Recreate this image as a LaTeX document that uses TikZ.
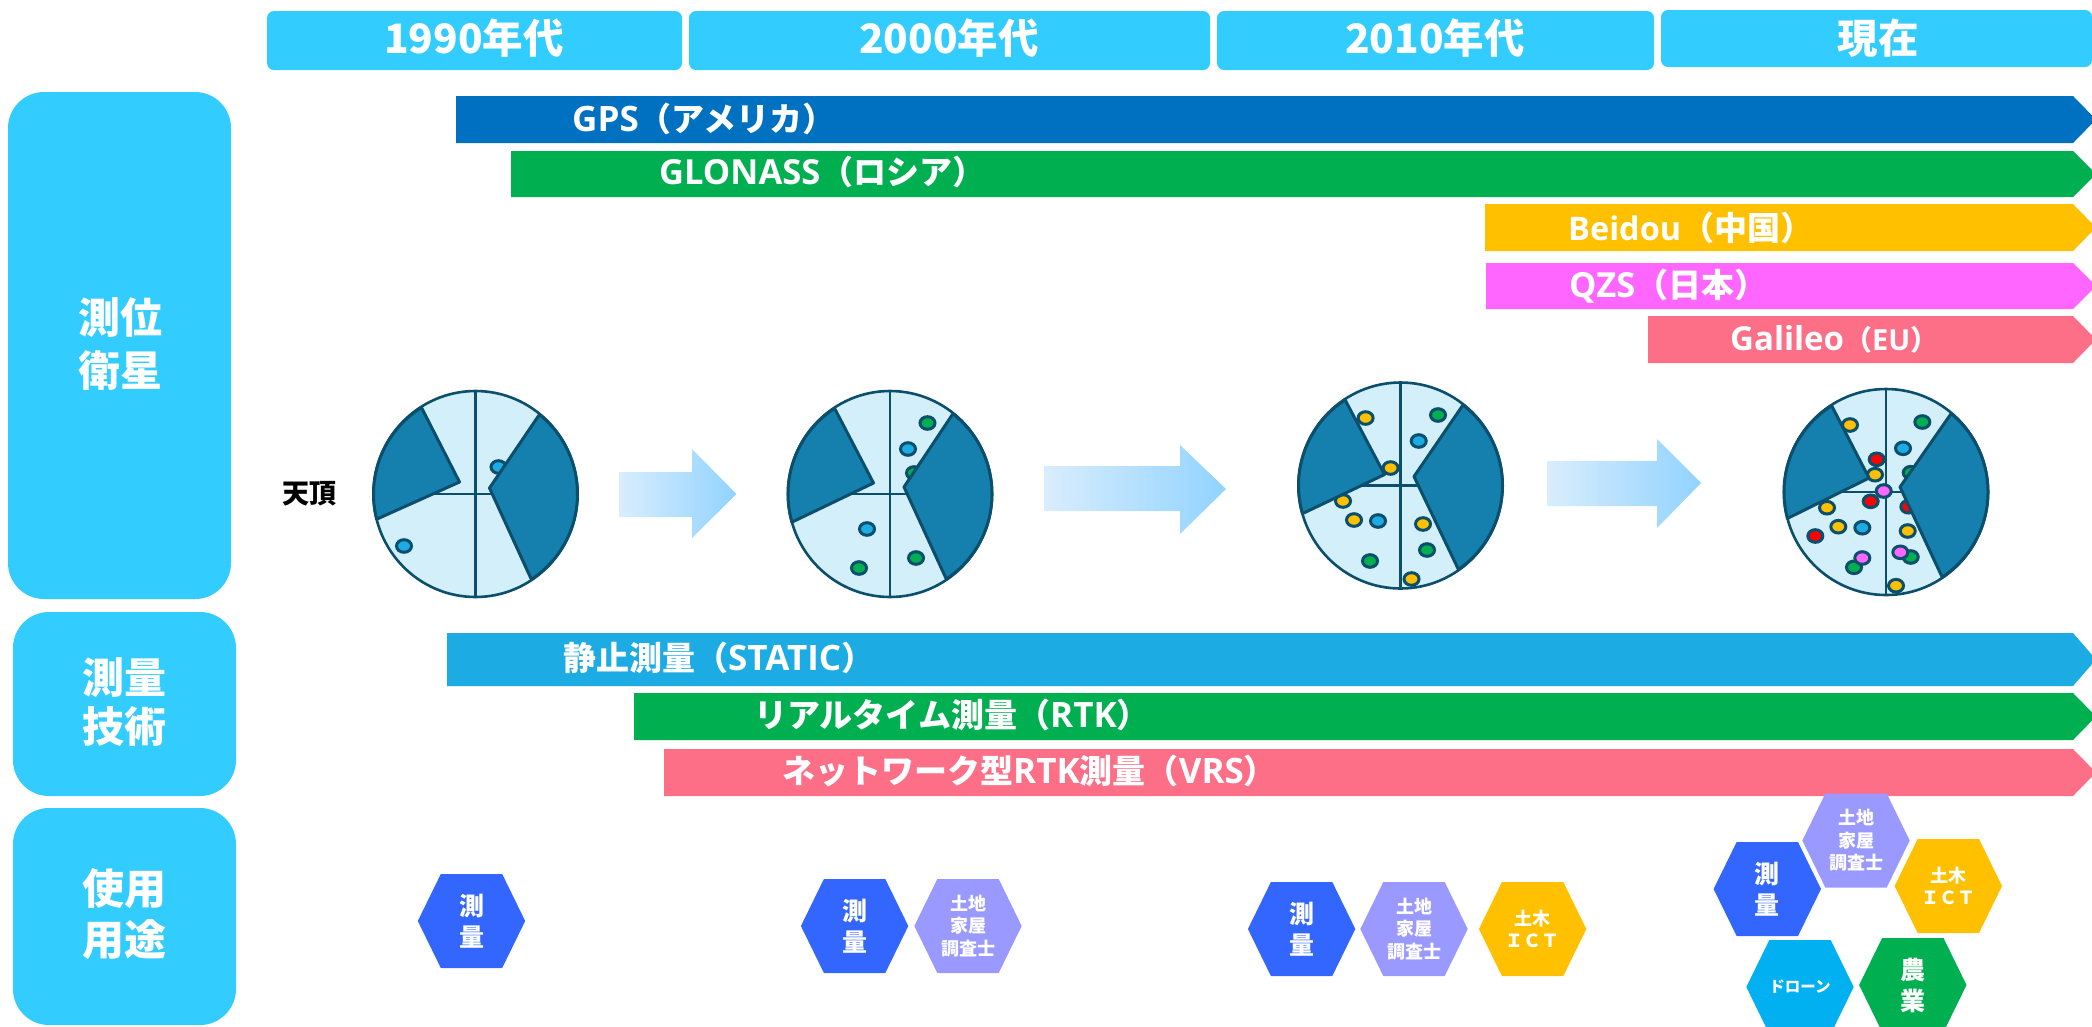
\documentclass[tikz,border=0pt]{standalone}
\usepackage{fontspec}
\newfontfamily\jp{Noto Sans CJK JP}
\newfontfamily\lat{Open Sans}
\newcommand\lt[2]{{\lat\bfseries\fontsize{#1}{#1}\selectfont #2}}
\definecolor{hdr}{HTML}{33CCFF}
\definecolor{cgps}{HTML}{0070C0}
\definecolor{cgreen}{HTML}{00B050}
\definecolor{cyel}{HTML}{FFC000}
\definecolor{cpink}{HTML}{FF66FF}
\definecolor{crose}{HTML}{FC6F87}
\definecolor{cstatic}{HTML}{1CABE2}
\definecolor{cred}{HTML}{FF0000}
\definecolor{skyline}{HTML}{0B4F6C}
\definecolor{skybg}{HTML}{D2EFFA}
\definecolor{skydark}{HTML}{1580AE}
\definecolor{hexblue}{HTML}{3366FF}
\definecolor{hexlav}{HTML}{9999FF}
\definecolor{hexsky}{HTML}{00B0F0}
\definecolor{arrl}{HTML}{D9EDFD}
\definecolor{arrr}{HTML}{91D3FF}
\tikzset{
  hdrbox/.style={fill=hdr,rounded corners=7pt},
  sidebox/.style={fill=hdr,rounded corners=36pt},
  hdrtext/.style={text=white,inner sep=0pt,font=\jp\bfseries\fontsize{40.5}{41}\selectfont},
  sidetext/.style={text=white,inner sep=0pt,align=center,font=\jp\bfseries\fontsize{42}{#1}\selectfont},
  bartext/.style={text=white,inner sep=0pt,anchor=west,font=\jp\bfseries\fontsize{33}{33}\selectfont},
  hextall/.style={text=white,inner sep=0pt,align=center,font=\jp\bfseries\fontsize{25}{31}\selectfont},
  hexsmall/.style={text=white,inner sep=0pt,align=center,font=\jp\bfseries\fontsize{18}{22.5}\selectfont},
  hextiny/.style={text=white,inner sep=0pt,align=center,font=\jp\bfseries\fontsize{15.5}{18}\selectfont},
  skyedge/.style={draw=skyline,line width=2.6pt},
  sector/.style={draw=skyline,line width=3pt,fill=skydark,line join=round},
  satdot/.style={draw=skyline,line width=3pt},
  flowarrow/.style={left color=arrl,right color=arrr}
}
\newcommand\tlbar[6]{% name, x, ytop, ybottom, colour, text start
  \fill[#5] (#2,#3) -- (2073,#3) -- (2096,{(#3+#4)/2}) -- (2073,#4) -- (#2,#4) -- cycle;
}
\newcommand\hexa[6]{% name, cx, cy, colour, style, text
  \fill[#4] ({#2-53.7},#3) -- ({#2-30.7},{#3-47}) -- ({#2+30.7},{#3-47}) -- ({#2+53.7},#3) -- ({#2+30.7},{#3+47}) -- ({#2-30.7},{#3+47}) -- cycle;
  \node[#5] (#1) at (#2,#3) {#6};
}
\newcommand\sat[3]{\draw[satdot,fill=#1] (#2,#3) ellipse[x radius=7.5,y radius=6.3];}
\newcommand\skybase[2]{%
  \draw[skyedge,fill=skybg] (#1,#2) ellipse[x radius=102,y radius=103];
  \draw[skyedge] (#1,{#2-103}) -- (#1,{#2+103});
  \draw[skyedge] ({#1-102},#2) -- ({#1+102},#2);
}
\begin{document}
\begin{tikzpicture}[x=1pt,y=-1pt]
\path[use as bounding box,clip] (0,0) rectangle (2092,1026);
% header
\fill[hdrbox] (267,11) rectangle (682,70);
\fill[hdrbox] (689,11) rectangle (1210,70);
\fill[hdrbox] (1217,11) rectangle (1654,70);
\fill[hdrbox] (1661,10) rectangle (2092,67);
\node[hdrtext] (h1) at (474,38) {1990年代};
\node[hdrtext] (h2) at (949,38) {2000年代};
\node[hdrtext] (h3) at (1435,38) {2010年代};
\node[hdrtext] (h4) at (1878,38) {現在};
% side
\fill[sidebox] (8,92) rectangle (231,599);
\fill[sidebox] (13,612) rectangle (236,796);
\fill[sidebox] (13,808) rectangle (236,1025);
\node[sidetext=53] (s1) at (120,344) {測位\\衛星};
\node[sidetext=49] (s2) at (124,702) {測量\\技術};
\node[sidetext=51] (s3) at (124,914) {使用\\用途};
% bars
\tlbar{b1}{456}{96}{143}{cgps}{}
\tlbar{b2}{511}{151}{197}{cgreen}{}
\tlbar{b3}{1485}{204}{251}{cyel}{}
\tlbar{b4}{1486}{263}{309}{cpink}{}
\tlbar{b5}{1648}{316}{363}{crose}{}
\tlbar{b6}{447}{633}{686}{cstatic}{}
\tlbar{b7}{634}{693}{740}{cgreen}{}
\tlbar{b8}{664}{749}{796}{crose}{}
\node[bartext] (t1) at (572,119) {\lt{35}{GPS}（アメリカ）};
\node[bartext] (t2) at (659,172) {\lt{34.5}{GLONASS}（ロシア）};
\node[bartext] (t3) at (1568,228) {\lt{32.5}{Beidou}（中国）};
\node[bartext] (t4) at (1569,286) {\lt{34.5}{QZS}（日本）};
\node[bartext,font=\jp\bfseries\fontsize{28}{28}\selectfont] (t5) at (1730,339) {\lt{33}{Galileo}（\lt{29}{EU}）};
\node[bartext] (t6) at (563,658) {静止測量（\lt{35}{STATIC}）};
\node[bartext] (t7) at (754,715) {リアルタイム測量（\lt{35}{RTK}）};
\node[bartext] (t8) at (782,771) {ネットワーク型\lt{35}{RTK}測量（\lt{35}{VRS}）};
\node[text=black,inner sep=0pt,font=\jp\bfseries\fontsize{27}{27}\selectfont] (zen) at (309,494) {天頂};
% sky 1
\skybase{475.5}{494}
\sat{cstatic}{404}{546}
\sat{cstatic}{498.5}{467}
\begin{scope}[shift={(475.5,494)}]
\draw[sector] (-16,-12) -- (238:102) arc[start angle=238,end angle=165.7,radius=102] -- cycle;
\draw[sector] (14,-6) -- (-51.2:102) arc[start angle=-51.2,end angle=56.8,radius=102] -- cycle;
\end{scope}
% sky 2
\skybase{890}{494}
\sat{cgreen}{927.5}{423}
\sat{cstatic}{908}{449}
\sat{cgreen}{914}{473}
\sat{cstatic}{867}{529}
\sat{cgreen}{859}{568}
\sat{cgreen}{916}{558}
\begin{scope}[shift={(890,494)}]
\draw[sector] (-16.5,-11) -- (237.1:102) arc[start angle=237.1,end angle=164,radius=102] -- cycle;
\draw[sector] (14,-7) -- (-51.9:102) arc[start angle=-51.9,end angle=56.5,radius=102] -- cycle;
\end{scope}
% sky 3
\skybase{1400.5}{485.5}
\sat{cyel}{1365.6}{418}
\sat{cgreen}{1438}{415}
\sat{cstatic}{1418.7}{441}
\sat{cyel}{1390.6}{468}
\sat{cyel}{1343}{501}
\sat{cyel}{1354}{520}
\sat{cstatic}{1378}{521}
\sat{cyel}{1423}{524}
\sat{cgreen}{1427}{550}
\sat{cgreen}{1370}{561}
\sat{cyel}{1411.5}{579}
\begin{scope}[shift={(1400.5,485.5)}]
\draw[sector] (-16,-11) -- (237.1:102) arc[start angle=237.1,end angle=164,radius=102] -- cycle;
\draw[sector] (13.5,-9) -- (-52.2:102) arc[start angle=-52.2,end angle=55.4,radius=102] -- cycle;
\end{scope}
% sky 4
\skybase{1886}{492}
\sat{cyel}{1850}{425}
\sat{cgreen}{1922.3}{422}
\sat{cstatic}{1903}{448.3}
\sat{cred}{1876.7}{459.3}
\sat{cyel}{1875}{474.7}
\sat{cgreen}{1910.7}{472.7}
\sat{cred}{1870.7}{501.3}
\sat{cred}{1908.3}{506.7}
\sat{cyel}{1827}{507.7}
\sat{cyel}{1838.3}{526.7}
\sat{cstatic}{1862.3}{527.7}
\sat{cred}{1815.3}{536}
\sat{cyel}{1907.7}{531}
\sat{cgreen}{1910.7}{557}
\sat{cpink}{1900.3}{552.3}
\sat{cgreen}{1854}{567.3}
\sat{cpink}{1862.3}{558}
\sat{cyel}{1896}{585.7}
\begin{scope}[shift={(1886,492)}]
\draw[sector] (-17,-14) -- (237.8:102) arc[start angle=237.8,end angle=165,radius=102] -- cycle;
\draw[sector] (14,-5) -- (-50.3:102) arc[start angle=-50.3,end angle=56.6,radius=102] -- cycle;
\end{scope}
\sat{cpink}{1883.7}{491}
% arrows
\shade[flowarrow] (619,472) -- (692,472) -- (692,449) -- (736.4,494) -- (692,538) -- (692,517) -- (619,517) -- cycle;
\shade[flowarrow] (1044,466) -- (1180,466) -- (1180,445) -- (1226,489) -- (1180,534) -- (1180,511) -- (1044,511) -- cycle;
\shade[flowarrow] (1547,461) -- (1657,461) -- (1657,439) -- (1701,483) -- (1657,528) -- (1657,506) -- (1547,506) -- cycle;
% hexagons
\hexa{x1}{471.5}{921}{hexblue}{hextall}{測\\量}
\hexa{x2}{854.6}{926}{hexblue}{hextall}{測\\量}
\hexa{x3}{968}{926}{hexlav}{hexsmall}{土地\\家屋\\調査士}
\hexa{x4}{1301.6}{929}{hexblue}{hextall}{測\\量}
\hexa{x5}{1414}{929}{hexlav}{hexsmall}{土地\\家屋\\調査士}
\hexa{x6}{1532.6}{929}{cyel}{hexsmall}{土木\\ＩＣＴ}
\hexa{x7}{1767.3}{889}{hexblue}{hextall}{測\\量}
\hexa{x8}{1856}{840.5}{hexlav}{hexsmall}{土地\\家屋\\調査士}
\hexa{x9}{1948.3}{886}{cyel}{hexsmall}{土木\\ＩＣＴ}
\hexa{x10}{1800}{987}{hexsky}{hextiny}{ドローン}
\hexa{x11}{1912.8}{985}{cgreen}{hextall}{農\\業}
\end{tikzpicture}
\end{document}
